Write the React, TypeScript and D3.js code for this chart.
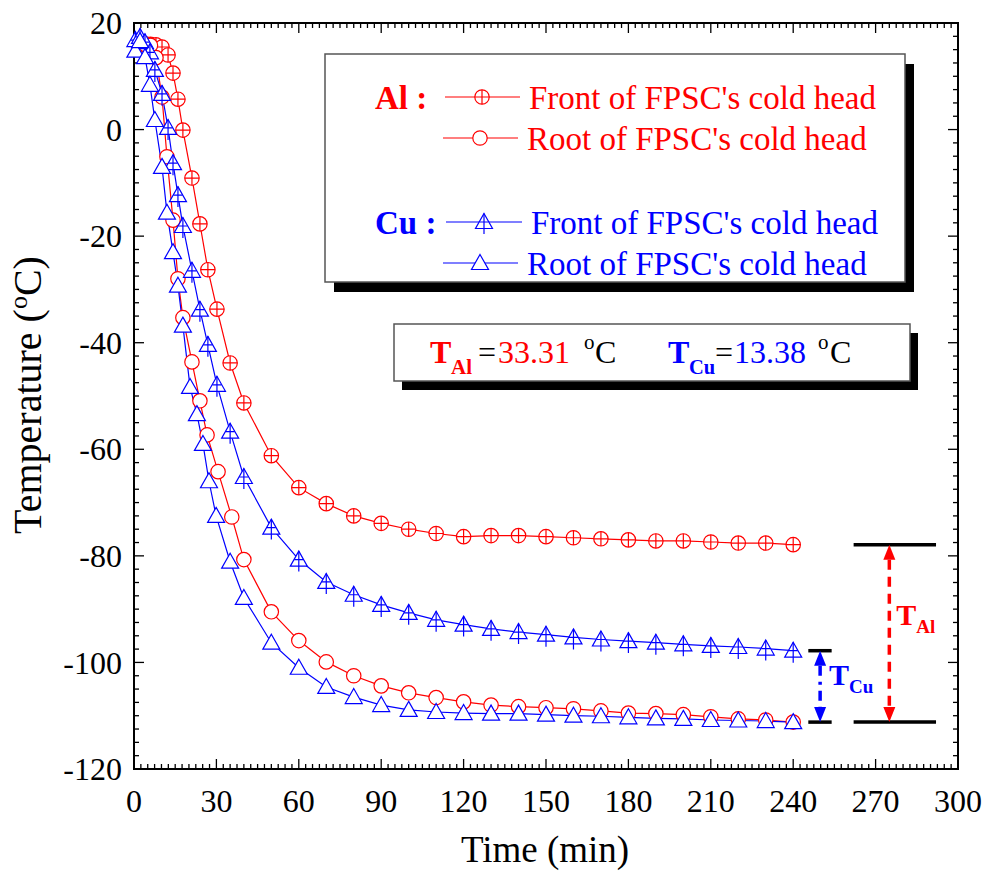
import React from 'react';
import * as d3 from 'd3';

// Al, front of the cold head
const timeAlFront = [2, 4, 6, 8, 10.2, 12.4, 14.2, 16, 17.8, 21.1, 24, 26.9, 30.2, 35, 40, 50, 60, 70, 80, 90, 100, 110, 120, 130, 140, 150, 160, 170, 180, 190, 200, 210, 220, 230, 240];
const tempAlFront = [16, 16.1, 16, 15.9, 15.5, 14, 10.6, 5.7, -0.1, -9.1, -17.7, -26.3, -33.7, -43.8, -51.3, -61.2, -67.2, -70.2, -72.5, -73.9, -75, -75.8, -76.4, -76.2, -76.2, -76.4, -76.6, -76.8, -77, -77.2, -77.2, -77.4, -77.6, -77.6, -77.9];

// Al, root of the cold head
const timeAlRoot = [2, 4, 6, 8, 10.2, 12, 14.2, 16, 17.8, 21.1, 24, 26.6, 30.6, 35.6, 40, 50, 60, 70, 80, 90, 100, 110, 120, 130, 140, 150, 160, 170, 180, 190, 200, 210, 220, 230, 240];
const tempAlRoot = [16, 16, 15.8, 13.5, 6.1, -5.1, -17, -28, -35.3, -43.6, -50.9, -57.3, -64.2, -72.7, -80.7, -90.5, -95.9, -99.9, -102.5, -104.4, -105.7, -106.6, -107.4, -108, -108.3, -108.5, -108.7, -109.1, -109.5, -109.6, -109.8, -110.2, -110.6, -110.8, -111.2];

// Cu, front of the cold head
const timeCuFront = [0.5, 2.2, 4, 5.8, 7.6, 10.2, 12.4, 14.2, 16, 17.8, 21.1, 24, 26.9, 30.2, 35, 40, 50, 60, 70, 80, 90, 100, 110, 120, 130, 140, 150, 160, 170, 180, 190, 200, 210, 220, 230, 240];
const tempCuFront = [16.8, 17.4, 16.4, 14.5, 11.2, 6.7, 0.3, -6.3, -12.3, -18.1, -26.5, -33.8, -40.4, -47.9, -56.7, -65.2, -74.7, -80.7, -84.9, -87.3, -89.2, -90.7, -92, -92.9, -93.7, -94.3, -94.8, -95.3, -95.7, -96, -96.3, -96.6, -96.9, -97.1, -97.4, -97.8];

// Cu, root of the cold head
const timeCuRoot = [0.5, 2.2, 4, 5.8, 7.6, 10.2, 12, 14.2, 16, 17.8, 20.4, 22.9, 25.1, 27.3, 29.9, 35, 40, 50, 60, 70, 80, 90, 100, 110, 120, 130, 140, 150, 160, 170, 180, 190, 200, 210, 220, 230, 240];
const tempCuRoot = [14.8, 16.6, 13.6, 8.4, 1.8, -7, -15.6, -23, -29.3, -36.8, -48.3, -53.4, -59, -66, -72.5, -81.1, -87.9, -96.3, -101, -104.6, -106.5, -108, -108.9, -109.3, -109.5, -109.6, -109.6, -109.8, -110, -110.1, -110.3, -110.5, -110.6, -110.8, -110.9, -111, -111.2];

const xTicks = [0, 30, 60, 90, 120, 150, 180, 210, 240, 270, 300];
const yTicks = [20, 0, -20, -40, -60, -80, -100, -120];
const deltaAl = '33.31';
const deltaCu = '13.38';

const RED = '#ff0000';
const BLUE = '#0000ff';
const FONT = '"Liberation Serif", "Times New Roman", serif';

const margin = { top: 23, right: 34, bottom: 105, left: 134 };
const W = 992;
const H = 874;
const innerW = W - margin.left - margin.right;
const innerH = H - margin.top - margin.bottom;

const x = d3.scaleLinear().domain([0, 300]).range([0, innerW]);
const y = d3.scaleLinear().domain([-120, 20]).range([innerH, 0]);

const line = d3.line<[number, number]>().x(d => x(d[0])).y(d => y(d[1]));

const zip = (t: number[], v: number[]) => t.map((ti, i) => [ti, v[i]] as [number, number]);

const Circle = ({ cx, cy, color, cross }: any) => (
  <g>
    <circle cx={cx} cy={cy} r={7.2} fill="white" stroke={color} strokeWidth={1.2} />
    {cross && (
      <path d={`M${cx},${cy - 7.2}V${cy + 7.2}M${cx - 7.2},${cy}H${cx + 7.2}`} stroke={color} strokeWidth={1.2} />
    )}
  </g>
);

const Tri = ({ cx, cy, color, cross }: any) => (
  <g>
    <path d={`M${cx},${cy - 8.5}L${cx + 8.5},${cy + 6.5}L${cx - 8.5},${cy + 6.5}Z`} fill="white" stroke={color} strokeWidth={1.2} />
    {cross && (
      <path d={`M${cx},${cy - 8.5}V${cy + 12}M${cx - 4.5},${cy}H${cx + 4.5}`} stroke={color} strokeWidth={1.2} />
    )}
  </g>
);

const series = [
  { data: zip(timeAlFront, tempAlFront), color: RED, Mark: Circle, cross: true },
  { data: zip(timeAlRoot, tempAlRoot), color: RED, Mark: Circle, cross: false },
  { data: zip(timeCuFront, tempCuFront), color: BLUE, Mark: Tri, cross: true },
  { data: zip(timeCuRoot, tempCuRoot), color: BLUE, Mark: Tri, cross: false },
];

const Arrow = ({ xp, y1, y2, color, dash }: any) => {
  const head = 15;
  const hw = 6;
  return (
    <g>
      <line x1={xp} x2={xp} y1={y1 + head} y2={y2 - head} stroke={color} strokeWidth={3.5} strokeDasharray={dash} />
      <path d={`M${xp},${y1}L${xp + hw},${y1 + head}L${xp - hw},${y1 + head}Z`} fill={color} />
      <path d={`M${xp},${y2}L${xp + hw},${y2 - head}L${xp - hw},${y2 - head}Z`} fill={color} />
    </g>
  );
};

export default function App() {
  const xMinor = d3.range(0, 300.01, 2.5);
  const yMinor = d3.range(-120, 20.01, 2.5);

  const endAlFront = y(tempAlFront[tempAlFront.length - 1]);
  const endAlRoot = y(tempAlRoot[tempAlRoot.length - 1]);
  const endCuFront = y(tempCuFront[tempCuFront.length - 1]);
  const endCuRoot = y(tempCuRoot[tempCuRoot.length - 1]);

  return (
    <svg width={W} height={H} style={{ position: 'absolute', left: 0, top: 0, background: 'white' }} fontFamily={FONT}>
      <g transform={`translate(${margin.left},${margin.top})`}>
        {/* ticks point inward on all four sides */}
        {xMinor.map(v => {
          const len = v % 30 === 0 ? 10 : 5;
          return (
            <g key={'x' + v}>
              <line x1={x(v)} x2={x(v)} y1={innerH} y2={innerH - len} stroke="black" strokeWidth={1.3} />
              <line x1={x(v)} x2={x(v)} y1={0} y2={len} stroke="black" strokeWidth={1.3} />
            </g>
          );
        })}
        {yMinor.map(v => {
          const len = v % 20 === 0 ? 10 : 5;
          return (
            <g key={'y' + v}>
              <line x1={0} x2={len} y1={y(v)} y2={y(v)} stroke="black" strokeWidth={1.3} />
              <line x1={innerW} x2={innerW - len} y1={y(v)} y2={y(v)} stroke="black" strokeWidth={1.3} />
            </g>
          );
        })}
        <rect x={0} y={0} width={innerW} height={innerH} fill="none" stroke="black" strokeWidth={2} />

        {xTicks.map(v => (
          <text key={v} x={x(v)} y={innerH + 43} textAnchor="middle" fontSize={32}>{v}</text>
        ))}
        {yTicks.map(v => (
          <text key={v} x={-12} y={y(v)} dy="0.35em" textAnchor="end" fontSize={32}>{v}</text>
        ))}

        <text x={innerW / 2 - 1} y={innerH + 93} textAnchor="middle" fontSize={37}>Time (min)</text>
        <text transform={`translate(${-93},${innerH / 2 - 1}) rotate(-90)`} textAnchor="middle" fontSize={40}>
          Temperature (<tspan dy={-14} fontSize={26}>o</tspan><tspan dy={14}>C)</tspan>
        </text>

        {/* series */}
        {series.map((s, i) => (
          <path key={'l' + i} d={line(s.data) || ''} fill="none" stroke={s.color} strokeWidth={1.2} />
        ))}
        {series.map((s, i) => (
          <g key={'m' + i}>
            {s.data.map((d, j) => (
              <s.Mark key={j} cx={x(d[0])} cy={y(d[1])} color={s.color} cross={s.cross} />
            ))}
          </g>
        ))}

        {/* temperature difference markers */}
        <line x1={x(262)} x2={x(292)} y1={endAlFront} y2={endAlFront} stroke="black" strokeWidth={3.5} />
        <line x1={x(262)} x2={x(292)} y1={endAlRoot} y2={endAlRoot} stroke="black" strokeWidth={3.5} />
        <Arrow xp={x(275)} y1={endAlFront} y2={endAlRoot} color={RED} dash="10,7" />
        <text x={x(277.5)} y={endAlFront + 80} fill={RED} fontWeight="bold" fontSize={30}>
          T<tspan dy={8} fontSize={19}>Al</tspan>
        </text>

        <line x1={x(245.5)} x2={x(254)} y1={endCuFront} y2={endCuFront} stroke="black" strokeWidth={3.5} />
        <line x1={x(245.5)} x2={x(254)} y1={endCuRoot} y2={endCuRoot} stroke="black" strokeWidth={3.5} />
        <Arrow xp={x(249.8)} y1={endCuFront} y2={endCuRoot} color={BLUE} dash="10,6,3,6" />
        <text x={x(253)} y={endCuFront + 34} fill={BLUE} fontWeight="bold" fontSize={30}>
          T<tspan dy={8} fontSize={19}>Cu</tspan>
        </text>
      </g>

      {/* legend box */}
      <rect x={334} y={64} width={580} height={228} fill="black" />
      <rect x={325} y={54} width={580} height={228} fill="white" stroke="#555" strokeWidth={1.5} />
      <text x={375} y={109} fill={RED} fontWeight="bold" fontSize={33}>Al :</text>
      <text x={375} y={234} fill={BLUE} fontWeight="bold" fontSize={33}>Cu :</text>

      <line x1={445} x2={520} y1={97} y2={97} stroke={RED} strokeWidth={1.2} />
      <Circle cx={482} cy={97} color={RED} cross />
      <text x={529} y={109} fill={RED} fontSize={33}>Front of FPSC's cold head</text>

      <line x1={443} x2={518} y1={138} y2={138} stroke={RED} strokeWidth={1.2} />
      <Circle cx={480} cy={138} color={RED} />
      <text x={527} y={150} fill={RED} fontSize={33}>Root of FPSC's cold head</text>

      <line x1={446} x2={522} y1={222} y2={222} stroke={BLUE} strokeWidth={1.2} />
      <Tri cx={484} cy={222} color={BLUE} cross />
      <text x={531} y={234} fill={BLUE} fontSize={33}>Front of FPSC's cold head</text>

      <line x1={443} x2={518} y1={263} y2={263} stroke={BLUE} strokeWidth={1.2} />
      <Tri cx={480} cy={263} color={BLUE} />
      <text x={527} y={275} fill={BLUE} fontSize={33}>Root of FPSC's cold head</text>

      {/* difference box */}
      <rect x={402} y={333} width={516} height={57} fill="black" />
      <rect x={394} y={324} width={516} height={57} fill="white" stroke="#555" strokeWidth={1.5} />
      <g fontSize={32}>
        <text x={430} y={363} fill={RED} fontWeight="bold">T</text>
        <text x={451} y={374} fill={RED} fontWeight="bold" fontSize={21}>Al</text>
        <text x={478} y={363}>=</text>
        <text x={498} y={363} fill={RED}>{deltaAl}</text>
        <text x={584} y={349} fontSize={21}>o</text>
        <text x={595} y={363}>C</text>
        <text x={668} y={363} fill={BLUE} fontWeight="bold">T</text>
        <text x={689} y={374} fill={BLUE} fontWeight="bold" fontSize={20.5}>Cu</text>
        <text x={715} y={363}>=</text>
        <text x={734} y={363} fill={BLUE}>{deltaCu}</text>
        <text x={818} y={349} fontSize={21}>o</text>
        <text x={830} y={363}>C</text>
      </g>
    </svg>
  );
}
